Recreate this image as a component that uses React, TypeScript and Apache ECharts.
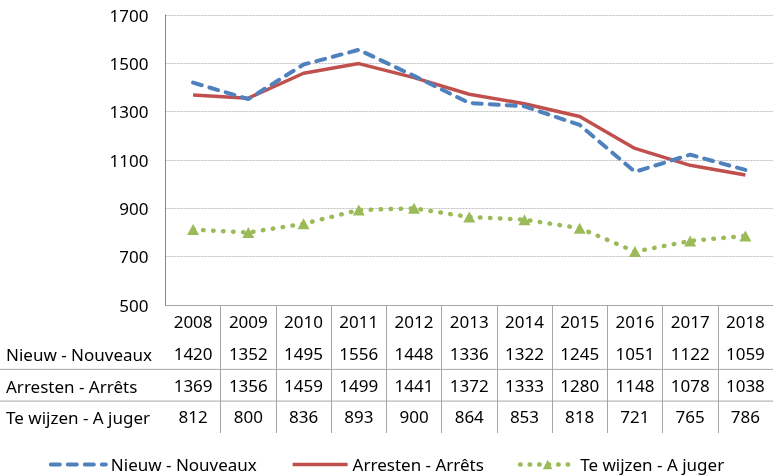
import React, { useEffect, useRef } from "react";
import * as echarts from "echarts";

const years = ["2008", "2009", "2010", "2011", "2012", "2013", "2014", "2015", "2016", "2017", "2018"];
const seriesNames = ["Nieuw - Nouveaux", "Arresten - Arrêts", "Te wijzen - A juger"];
const nieuw = [1420, 1352, 1495, 1556, 1448, 1336, 1322, 1245, 1051, 1122, 1059];
const arresten = [1369, 1356, 1459, 1499, 1441, 1372, 1333, 1280, 1148, 1078, 1038];
const teWijzen = [812, 800, 836, 893, 900, 864, 853, 818, 721, 765, 786];
const yTicks = { min: 500, max: 1700, interval: 200 };

const FONT = "'Noto Sans', sans-serif";
const GRID_LEFT = 165.5;
const GRID_TOP = 15;
const GRID_BOTTOM_Y = 305;
const ROW_H = 31.7;
const BLUE = "#4F81BD";
const RED = "#C0504D";
const GREEN = "#9BBB59";

export default function App() {
  const ref = useRef<HTMLDivElement>(null);
  useEffect(() => {
    if (!ref.current) return;
    const chart = echarts.init(ref.current, null, { renderer: "svg" });
    const rowLabelY = [GRID_BOTTOM_Y + 2 + ROW_H * 1.5, GRID_BOTTOM_Y + 2 + ROW_H * 2.5, GRID_BOTTOM_Y + 2 + ROW_H * 3.5];
    chart.setOption({
      animation: false,
      textStyle: { fontFamily: FONT },
      grid: { left: GRID_LEFT, top: GRID_TOP, width: 609, height: GRID_BOTTOM_Y - GRID_TOP },
      legend: {
        left: "center",
        top: 451,
        itemWidth: 55,
        itemHeight: 12,
        itemGap: 34,
        textStyle: { fontFamily: FONT, fontSize: 17, color: "#000" },
        data: [
          { name: seriesNames[0], itemStyle: { opacity: 0 }, lineStyle: { width: 4, type: [9, 8], cap: "round", color: BLUE } },
          { name: seriesNames[1], itemStyle: { opacity: 0 }, lineStyle: { width: 3.5, color: RED } },
          { name: seriesNames[2], lineStyle: { width: 4.5, type: [0.5, 9], cap: "round", color: GREEN } },
        ],
      },
      xAxis: {
        type: "category",
        data: years,
        boundaryGap: true,
        axisLine: { show: true, lineStyle: { color: "#A6A6A6", width: 1 } },
        axisTick: {
          show: true,
          length: 128,
          inside: false,
          interval: (index: number) => index !== 0,
          lineStyle: { color: "#A6A6A6", width: 1 },
        },
        axisLabel: {
          interval: 0,
          margin: 1,
          color: "#000",
          fontFamily: FONT,
          fontSize: 17,
          lineHeight: ROW_H,
          formatter: (value: string, index: number) =>
            `${value}\n${nieuw[index]}\n${arresten[index]}\n${teWijzen[index]}`,
        },
        splitLine: { show: false },
      },
      yAxis: {
        type: "value",
        min: yTicks.min,
        max: yTicks.max,
        interval: yTicks.interval,
        axisLine: { show: true, lineStyle: { color: "#868686", width: 1 } },
        axisTick: { show: false },
        axisLabel: { margin: 17, color: "#000", fontFamily: FONT, fontSize: 17, formatter: (v: number) => String(v) },
        splitLine: { show: true, lineStyle: { color: "#BFBFBF", type: [2, 1], width: 1 } },
      },
      series: [
        {
          name: seriesNames[0],
          type: "line",
          data: nieuw,
          symbol: "none",
          z: 3,
          itemStyle: { color: BLUE },
          lineStyle: { color: BLUE, width: 4, type: [9, 8], cap: "round" },
        },
        {
          name: seriesNames[1],
          type: "line",
          data: arresten,
          symbol: "none",
          z: 2,
          itemStyle: { color: RED },
          lineStyle: { color: RED, width: 3.5 },
        },
        {
          name: seriesNames[2],
          type: "line",
          data: teWijzen,
          symbol: "triangle",
          symbolSize: [12, 11],
          z: 2,
          itemStyle: { color: GREEN },
          lineStyle: { color: GREEN, width: 4.5, type: [0.5, 9.5], cap: "round" },
        },
      ],
      graphic: [
        ...seriesNames.map((name, i) => ({
          type: "text",
          x: 6,
          y: rowLabelY[i],
          style: { text: name, fill: "#000", font: `17px ${FONT}`, verticalAlign: "middle" },
        })),
        ...[GRID_BOTTOM_Y + 1 + ROW_H * 2, GRID_BOTTOM_Y + 1 + ROW_H * 3].map((y) => ({
          type: "line",
          shape: { x1: 0, y1: y, x2: 773, y2: y },
          style: { stroke: "#A6A6A6", lineWidth: 1 },
        })),
      ],
    });
    return () => chart.dispose();
  }, []);
  return <div ref={ref} style={{ position: "fixed", left: 0, top: 0, width: 773, height: 476 }} />;
}
